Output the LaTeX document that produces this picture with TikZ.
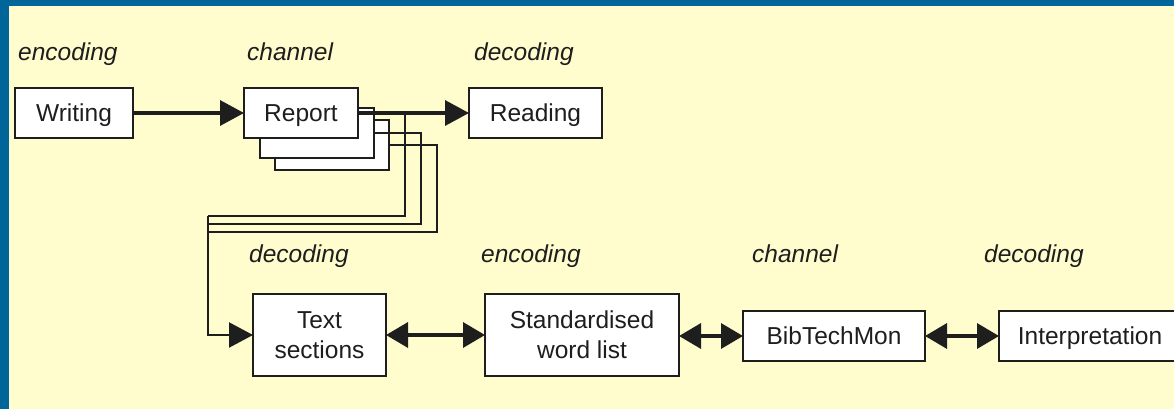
\documentclass[tikz,border=0pt]{standalone}
\usepackage{fontspec}
\setmainfont{Liberation Sans}
\usetikzlibrary{arrows.meta}
\definecolor{frameblue}{RGB}{0,102,153}
\definecolor{paper}{RGB}{255,252,205}
\definecolor{ink}{RGB}{30,30,30}
\tikzset{
  box/.style={draw=ink, fill=white, line width=2pt, rectangle, inner sep=0pt, outer sep=0pt,
    align=center, text=ink, font=\fontsize{24.5}{30}\selectfont},
  oneline/.style={text height=17pt, text depth=0pt},
  lbl/.style={anchor=base west, inner sep=0pt, text=ink, font=\fontsize{24.5}{30}\selectfont\itshape},
  flow/.style={draw=ink, line width=3.4pt, -{Triangle[length=24pt,width=25pt]}},
  both/.style={draw=ink, line width=3.4pt, {Triangle[length=22pt,width=25pt]}-{Triangle[length=22pt,width=25pt]}},
  feed/.style={draw=ink, line width=2.2pt},
}
\begin{document}
\begin{tikzpicture}[x=1pt, y=-1pt]
\useasboundingbox (0,0) rectangle (1174,409);
\clip (0,0) rectangle (1174,409);
\fill[paper] (0,0) rectangle (1174,409);
\fill[frameblue] (0,0) rectangle (1174,6);
\fill[frameblue] (0,0) rectangle (9,409);

% labels
\node[lbl] (l1) at (18,61) {encoding};
\node[lbl] (l2) at (247,61) {channel};
\node[lbl] (l3) at (474,61) {decoding};
\node[lbl] (l4) at (249,262) {decoding};
\node[lbl] (l5) at (481,262) {encoding};
\node[lbl] (l6) at (752,262) {channel};
\node[lbl] (l7) at (984,262) {decoding};

% boxes
\node[box, oneline, minimum width=118pt, minimum height=50pt] (writing) at (74,113) {Writing};
\node[box, minimum width=114pt, minimum height=50pt] (rep3) at (331.5,145) {};
\node[box, minimum width=114pt, minimum height=50pt] (rep2) at (316.5,133) {};
\node[box, oneline, minimum width=114pt, minimum height=50pt] (report) at (301,113) {Report};
\node[box, oneline, minimum width=133pt, minimum height=50pt] (reading) at (535.5,113) {Reading};
\node[box, minimum width=133pt, minimum height=82pt] (text) at (319.5,335) {Text\\sections};
\node[box, minimum width=194pt, minimum height=82pt] (std) at (582,335) {Standardised\\word list};
\node[box, oneline, minimum width=182pt, minimum height=50pt] (bib) at (834,336) {BibTechMon};
\node[box, oneline, minimum width=182pt, minimum height=50pt] (interp) at (1090,336) {Interpretation};

% feeder lines
\coordinate (b1) at (405,113);
\coordinate (j) at (208,216);
\draw[feed] (b1) -- (405,216) -- (j);
\draw[feed] (rep2.east) -- (421,133) -- (421,224) -- (208,224);
\draw[feed] (rep3.east) -- (437,145) -- (437,232) -- (208,232);
\draw[feed, -{Triangle[length=24pt,width=25pt]}] (j) |- (text.west);

% main flow
\draw[flow] (writing.east) -- (report.west);
\draw[flow] (report.east) -- (reading.west);
\draw[both] (text.east) -- (std.west);
\draw[both] (std.east |- bib.west) -- (bib.west);
\draw[both] (bib.east) -- (interp.west);
\end{tikzpicture}
\end{document}
